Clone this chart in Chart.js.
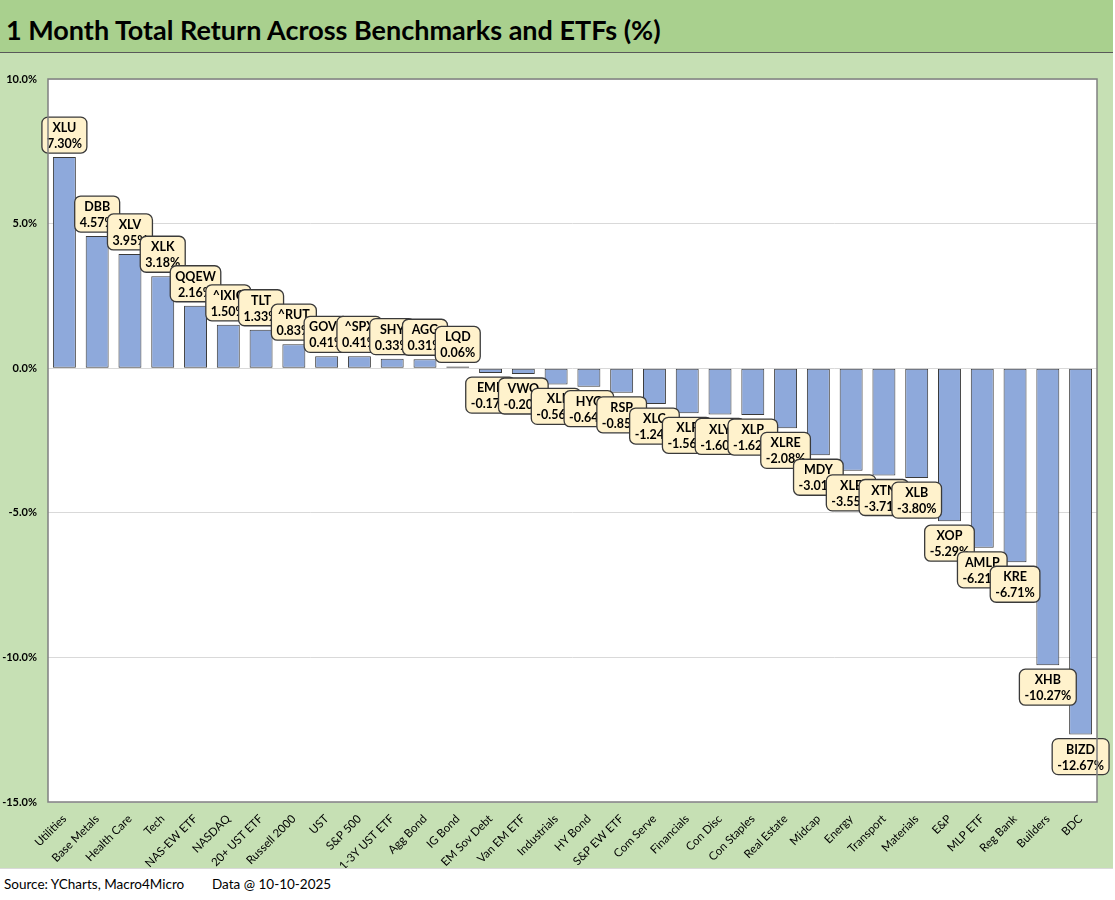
<!DOCTYPE html>
<html lang="en">
<head>
<meta charset="UTF-8">
<title>1 Month Total Return</title>
<script src="https://cdn.jsdelivr.net/npm/chart.js"></script>
<style>
    * { margin: 0; padding: 0; box-sizing: border-box; }
    body { width: 1115px; height: 900px; background: #fff; font-family: Lato, 'Open Sans', sans-serif; position: relative; }
    .title-band {
        position: absolute; left: 0; top: 0; width: 1113px; height: 53px;
        background: #A9D08E; border-bottom: 1px solid #595959;
    }
    .title-band h1 {
        position: absolute; left: 6px; top: 13px;
        font-size: 27px; font-weight: bold; color: #000;
    }
    .panel {
        position: absolute; left: 0; top: 53px; width: 1113px; height: 816px;
        background: #C6E0B4; border-bottom: 1px solid #D9D9D9;
    }
    .footer { position: absolute; top: 876px; font-size: 13.5px; color: #000; }
</style>
</head>
<body>
    <div class="title-band"><h1>1 Month Total Return Across Benchmarks and ETFs (%)</h1></div>
    <div class="panel"><canvas id="myChart" width="1113" height="815"></canvas></div>
    <div class="footer" style="left: 4px;">Source: YCharts, Macro4Micro</div>
    <div class="footer" style="left: 212px;">Data @ 10-10-2025</div>

<script>
    const categories = ['Utilities', 'Base Metals', 'Health Care', 'Tech', 'NAS-EW ETF', 'NASDAQ', '20+ UST ETF',
        'Russell 2000', 'UST', 'S&P 500', '1-3Y UST ETF', 'Agg Bond', 'IG Bond', 'EM Sov Debt', 'Van EM ETF',
        'Industrials', 'HY Bond', 'S&P EW ETF', 'Com Serve', 'Financials', 'Con Disc', 'Con Staples',
        'Real Estate', 'Midcap', 'Energy', 'Transport', 'Materials', 'E&P', 'MLP ETF', 'Reg Bank', 'Builders', 'BDC'];

    const tickers = ['XLU', 'DBB', 'XLV', 'XLK', 'QQEW', '^IXIC', 'TLT', '^RUT', 'GOVT', '^SPX', 'SHY', 'AGG',
        'LQD', 'EMB', 'VWO', 'XLI', 'HYG', 'RSP', 'XLC', 'XLF', 'XLY', 'XLP', 'XLRE', 'MDY', 'XLE', 'XTN',
        'XLB', 'XOP', 'AMLP', 'KRE', 'XHB', 'BIZD'];

    const returns = [7.30, 4.57, 3.95, 3.18, 2.16, 1.50, 1.33, 0.83, 0.41, 0.41, 0.33, 0.31, 0.06,
        -0.17, -0.20, -0.56, -0.64, -0.85, -1.24, -1.56, -1.60, -1.62, -2.08, -3.01, -3.55, -3.71,
        -3.80, -5.29, -6.21, -6.71, -10.27, -12.67];

    const yTicks = [10, 5, 0, -5, -10, -15];

    // white plot area + frame
    const plotBorder = {
        id: 'plotBorder',
        beforeDraw(chart) {
            const { ctx, chartArea: a } = chart;
            ctx.save();
            ctx.fillStyle = '#fff';
            ctx.fillRect(a.left, a.top, a.right - a.left, a.bottom - a.top);
            ctx.restore();
        },
        afterDraw(chart) {
            const { ctx, chartArea: a } = chart;
            ctx.save();
            ctx.strokeStyle = '#808080';
            ctx.lineWidth = 1.5;
            ctx.strokeRect(a.left, a.top, a.right - a.left, a.bottom - a.top);
            ctx.restore();
        }
    };

    // ticker + value callout boxes
    const calloutBoxes = {
        id: 'calloutBoxes',
        afterDatasetsDraw(chart) {
            const ctx = chart.ctx;
            const meta = chart.getDatasetMeta(0);
            ctx.save();
            ctx.font = 'bold 12.5px Lato, sans-serif';
            ctx.textAlign = 'center';
            ctx.textBaseline = 'middle';
            meta.data.forEach((bar, i) => {
                const v = returns[i];
                const valText = v.toFixed(2) + '%';
                const w = Math.max(ctx.measureText(tickers[i]).width, ctx.measureText(valText).width) + 10;
                const h = 36;
                const top = v >= 0 ? bar.y - 4 - h : bar.y + 4;
                const left = bar.x - w / 2;
                ctx.beginPath();
                ctx.roundRect(left, top, w, h, 6);
                ctx.fillStyle = '#FFF2CC';
                ctx.fill();
                ctx.lineWidth = 1.3;
                ctx.strokeStyle = '#3A3A3A';
                ctx.stroke();
                ctx.fillStyle = '#000';
                ctx.fillText(tickers[i], bar.x, top + 11);
                ctx.fillText(valText, bar.x, top + 27);
            });
            ctx.restore();
        }
    };

    const config = {
        type: 'bar',
        data: {
            labels: categories,
            datasets: [{
                data: returns,
                backgroundColor: '#8EA9DB',
                borderColor: '#3A3A3A',
                borderWidth: 1,
                borderSkipped: false,
                barPercentage: 0.7,
                categoryPercentage: 1.0
            }]
        },
        plugins: [plotBorder, calloutBoxes],
        options: {
            responsive: false,
            animation: false,
            layout: { padding: { left: 0, right: 16, top: 26, bottom: 0 } },
            plugins: { legend: { display: false }, tooltip: { enabled: false } },
            scales: {
                y: {
                    min: -15, max: 10,
                    afterFit(scale) { scale.width = 48; },
                    afterBuildTicks(scale) { scale.ticks = yTicks.map(v => ({ value: v })); },
                    ticks: {
                        callback: v => v.toFixed(1) + '%',
                        color: '#000',
                        font: { family: 'Lato', size: 11, weight: 'bold' },
                        padding: 11
                    },
                    grid: { color: '#D9D9D9', drawTicks: false },
                    border: { display: false }
                },
                x: {
                    afterFit(scale) { scale.height = 66; },
                    ticks: {
                        minRotation: 45, maxRotation: 45,
                        autoSkip: false,
                        color: '#000',
                        font: { family: 'Lato', size: 11.5 },
                        padding: 2
                    },
                    grid: { display: false },
                    border: { display: false }
                }
            }
        }
    };

    new Chart(document.getElementById('myChart'), config);
</script>
</body>
</html>
